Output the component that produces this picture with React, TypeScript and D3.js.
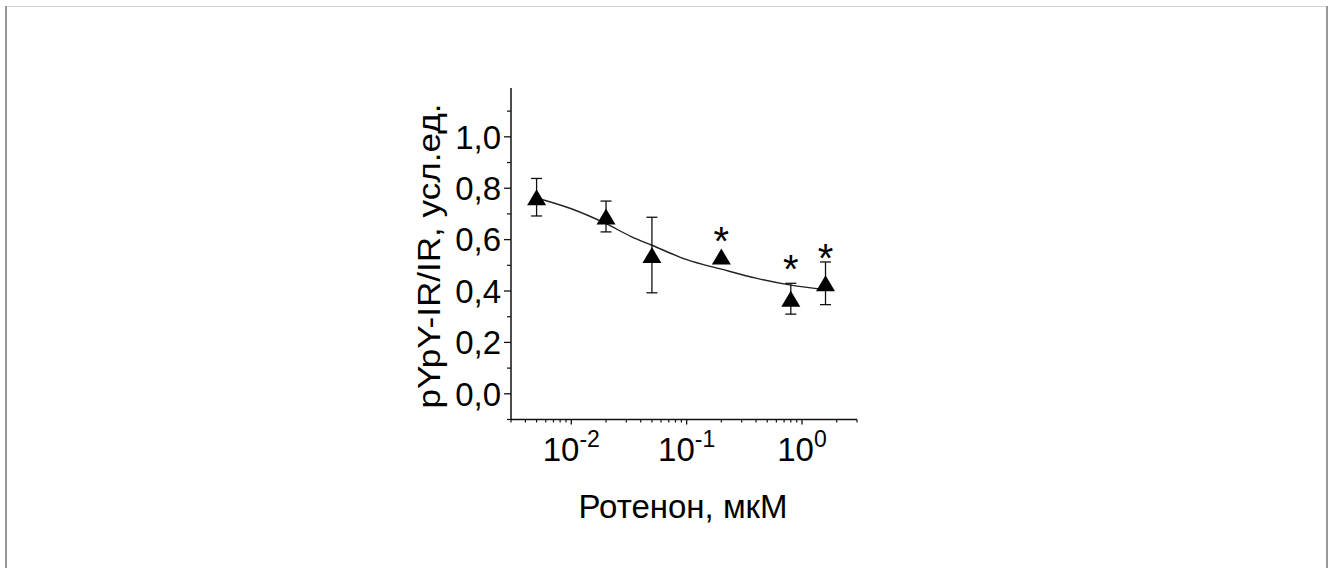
import React from 'react'
import * as d3 from 'd3'

// rotenone concentration, uM
const doses = [0.005, 0.02, 0.05, 0.2, 0.8, 1.6]
const means = [0.765, 0.69, 0.54, 0.534, 0.37, 0.43]
const errs = [0.073, 0.06, 0.147, 0, 0.06, 0.083]
// height of the significance asterisk (null = none)
const starAt = [null, null, null, 0.63, 0.52, 0.565]

// fitted curve
const fitX = [0.005, 0.01, 0.02, 0.033, 0.05, 0.1, 0.2, 0.4, 0.8, 1.6]
const fitY = [0.762, 0.72, 0.662, 0.612, 0.578, 0.522, 0.485, 0.45, 0.423, 0.406]

const yMajor = [0, 0.2, 0.4, 0.6, 0.8, 1.0]
const yMinor = [-0.1, 0.1, 0.3, 0.5, 0.7, 0.9, 1.1]
const yLabels = ['0,0', '0,2', '0,4', '0,6', '0,8', '1,0']
const xMajor = [0.01, 0.1, 1]
const xExp = ['-2', '-1', '0']
const xMinor = [0.003, 0.004, 0.005, 0.006, 0.007, 0.008, 0.009,
  0.02, 0.03, 0.04, 0.05, 0.06, 0.07, 0.08, 0.09,
  0.2, 0.3, 0.4, 0.5, 0.6, 0.7, 0.8, 0.9, 2, 3]

const font = '"Liberation Sans", Arial, sans-serif'

export default function App() {
  const W = 1336
  const H = 568
  const x = d3.scaleLog().domain([0.003, 3]).range([511, 857])
  const y = d3.scaleLinear().domain([-0.1, 1.19]).range([419.5, 88])
  const [x0, x1] = x.range()
  const [yb, yt] = y.range()

  const fitLine = d3.line<number>()
    .x((d, i) => x(fitX[i]))
    .y(d => y(d))
    .curve(d3.curveMonotoneX)

  const tri = 'M0,-8L9.5,8L-9.5,8Z'
  const ink = '#111'

  return (
    <svg width={W} height={H} style={{ position: 'absolute', left: 0, top: 0, background: '#fff' }}
      fontFamily={font}>
      {/* page frame */}
      <line x1={5} x2={1328} y1={6.5} y2={6.5} stroke="#d4d4d4" />
      <line x1={6} x2={6} y1={6} y2={H} stroke="#999" strokeWidth={2} />
      <line x1={1327} x2={1327} y1={6} y2={H} stroke="#999" strokeWidth={2} />

      {/* axes */}
      <line x1={x0} x2={x0} y1={yt} y2={yb} stroke={ink} strokeWidth={1.5} />
      <line x1={x0} x2={x1} y1={yb} y2={yb} stroke={ink} strokeWidth={1.5} />
      {yMajor.map((v, i) => (
        <g key={'ym' + i}>
          <line x1={x0 - 7} x2={x0} y1={y(v)} y2={y(v)} stroke={ink} strokeWidth={1.3} />
          <text x={x0 - 10} y={y(v)} dy="0.36em" fontSize={33} textAnchor="end">{yLabels[i]}</text>
        </g>
      ))}
      {yMinor.map((v, i) => (
        <line key={'yn' + i} x1={x0 - 4} x2={x0} y1={y(v)} y2={y(v)} stroke={ink} strokeWidth={1.2} />
      ))}
      {xMajor.map((v, i) => (
        <g key={'xm' + i}>
          <line x1={x(v)} x2={x(v)} y1={yb} y2={yb + 5} stroke={ink} strokeWidth={1.3} />
          <text x={x(v)} y={461} fontSize={33} textAnchor="middle">
            10<tspan fontSize={23} dy={-14}>{xExp[i]}</tspan>
          </text>
        </g>
      ))}
      {xMinor.map((v, i) => (
        <line key={'xn' + i} x1={x(v)} x2={x(v)} y1={yb} y2={yb + 3} stroke={ink} strokeWidth={1.2} />
      ))}

      {/* titles */}
      <text transform="translate(440,256) rotate(-90)" fontSize={32} textAnchor="middle"
        textLength={305} lengthAdjust="spacingAndGlyphs">pYpY-IR/IR, усл.ед.</text>
      <text x={683} y={518} fontSize={33} textAnchor="middle">Ротенон, мкМ</text>

      {/* fit */}
      <path d={fitLine(fitY) ?? ''} fill="none" stroke="#222" strokeWidth={1.4} />

      {/* error bars */}
      {doses.map((d, i) => errs[i] > 0 && (
        <g key={'e' + i} stroke={ink} strokeWidth={1.3}>
          <line x1={x(d)} x2={x(d)} y1={y(means[i] + errs[i])} y2={y(means[i] - errs[i])} />
          <line x1={x(d) - 5.5} x2={x(d) + 5.5} y1={y(means[i] + errs[i])} y2={y(means[i] + errs[i])} />
          <line x1={x(d) - 5.5} x2={x(d) + 5.5} y1={y(means[i] - errs[i])} y2={y(means[i] - errs[i])} />
        </g>
      ))}

      {/* markers */}
      {doses.map((d, i) => (
        <path key={'p' + i} d={tri} transform={`translate(${x(d)},${y(means[i])})`} fill="#000" />
      ))}

      {/* significance */}
      {doses.map((d, i) => starAt[i] != null && (
        <text key={'s' + i} x={x(d)} y={y(starAt[i] as number) + 23}
          fontSize={40} textAnchor="middle">*</text>
      ))}
    </svg>
  )
}
